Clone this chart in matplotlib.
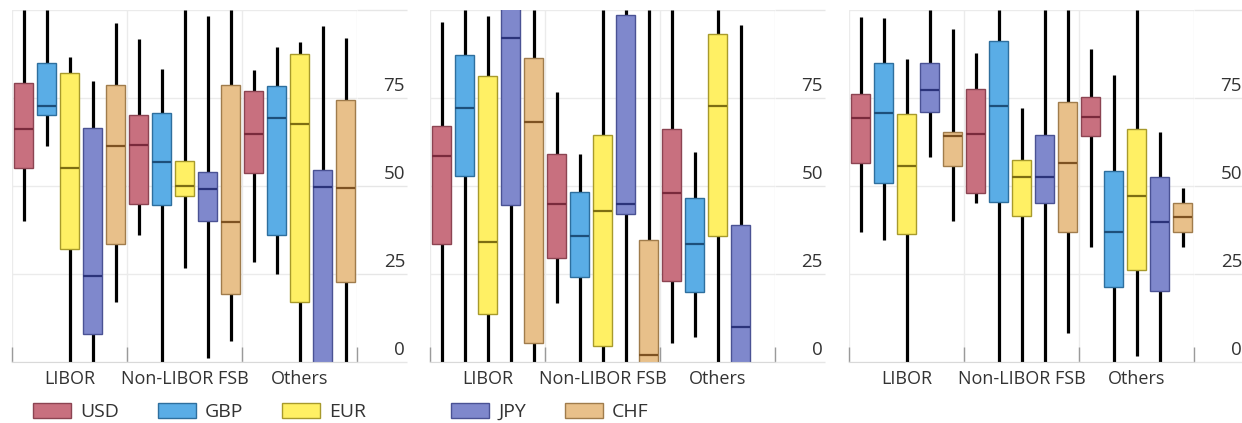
import matplotlib
matplotlib.use("Agg")
import matplotlib.pyplot as plt
import matplotlib.transforms as mtransforms
from matplotlib.patches import Patch
import numpy as np

plt.rcParams['font.family'] = ['Open Sans', 'DejaVu Sans']

categories = ['LIBOR', 'Non-LIBOR FSB', 'Others']
currencies = ['USD', 'GBP', 'EUR', 'JPY', 'CHF']

face_colors = ['#c8707f', '#5aade6', '#fff064', '#7f88cc', '#e8c08a']
edge_colors = ['#8c4452', '#2e6f9e', '#a89a2c', '#4a5294', '#a07c4c']
median_colors = ['#7a2a3c', '#1d4f7a', '#7d6e12', '#2b337a', '#7d5222']

# rows: USD, GBP, EUR, JPY, CHF / columns: LIBOR, Non-LIBOR FSB, Others
a_lo = [[40.1, 36.1, 28.5], [61.4, 0, 25.0], [0, 26.6, 0], [0, 1.0, 0], [17.1, 6.1, 0]]
a_q1 = [[55.2, 44.9, 53.8], [70.1, 44.6, 36.1], [32.1, 47.2, 17.0], [8.0, 40.1, -1], [33.4, 19.2, 22.6]]
a_med = [[66.1, 61.6, 64.7], [72.8, 56.8, 69.4], [55.2, 50.0, 67.6], [24.3, 49.1, 49.8], [61.4, 39.9, 49.3]]
a_q3 = [[79.3, 70.1, 77.1], [84.9, 70.7, 78.4], [82.0, 57.1, 87.4], [66.4, 54.1, 54.5], [78.6, 78.6, 74.4]]
a_hi = [[100, 91.7, 83.0], [100, 83.2, 89.6], [86.7, 100, 91.0], [79.9, 98.4, 95.5], [96.4, 100, 92.0]]

b_lo = [[0, 16.7, 5.5], [0, 0, 7.2], [0, 0, 0], [0, 0, 0], [0, 0, np.nan]]
b_q1 = [[33.4, 29.5, 23.1], [52.9, 24.1, 20.0], [13.6, 4.5, 35.8], [44.6, 42.0, -1], [5.5, -1, np.nan]]
b_med = [[58.5, 44.9, 48.1], [72.2, 35.8, 33.4], [34.0, 43.0, 72.7], [92.1, 44.9, 10.0], [68.1, 2.0, np.nan]]
b_q3 = [[67.1, 59.0, 66.1], [87.2, 48.2, 46.5], [81.3, 64.5, 93.2], [101, 98.6, 38.9], [86.4, 34.7, np.nan]]
b_hi = [[96.5, 76.8, 100], [100, 59.0, 59.7], [98.4, 100, 100], [101, 100, 95.7], [100, 100, np.nan]]

c_lo = [[36.8, 45.1, 32.6], [34.7, 0, 0], [0, 0, 1.7], [58.2, 0, 0], [40.1, 8.2, 32.6]]
c_q1 = [[56.4, 48.1, 64.3], [50.8, 45.5, 21.2], [36.3, 41.6, 26.1], [70.9, 45.1, 20.3], [55.8, 36.8, 36.8]]
c_med = [[69.4, 64.7, 69.5], [70.8, 72.8, 37.0], [55.7, 52.6, 47.2], [77.3, 52.6, 39.7], [64.2, 56.6, 41.1]]
c_q3 = [[76.1, 77.5, 75.4], [85.0, 91.2, 54.3], [70.5, 57.4, 66.1], [84.9, 64.5, 52.5], [65.4, 73.9, 45.3]]
c_hi = [[97.9, 87.9, 88.8], [97.6, 100, 81.5], [86.1, 72.2, 100], [100, 100, 65.4], [94.5, 100, 49.3]]

panels = [
    (a_lo, a_q1, a_med, a_q3, a_hi),
    (b_lo, b_q1, b_med, b_q3, b_hi),
    (c_lo, c_q1, c_med, c_q3, c_hi),
]

y_ticks = [0, 25, 50, 75, 100]
y_tick_labels = ['0', '25', '50', '75', '']

W, H = 1242, 423
fig = plt.figure(figsize=(W / 100, H / 100), dpi=100)

axes_left = [12, 430, 849]
offsets = np.array([-0.4, -0.2, 0.0, 0.2, 0.4])
text_color = '#333333'

for left, (lo, q1, med, q3, hi) in zip(axes_left, panels):
    ax = fig.add_axes([left / W, 61 / H, 345 / W, 352 / H])
    for i in range(len(currencies)):
        stats, pos = [], []
        for j in range(len(categories)):
            if np.isnan(med[i][j]):
                continue
            stats.append(dict(whislo=lo[i][j], q1=q1[i][j], med=med[i][j],
                              q3=q3[i][j], whishi=hi[i][j], fliers=[]))
            pos.append(j + offsets[i])
        bp = ax.bxp(stats, positions=pos, widths=0.16, patch_artist=True,
                    showcaps=False, showfliers=False,
                    boxprops=dict(facecolor=face_colors[i], edgecolor=edge_colors[i], linewidth=1.0),
                    medianprops=dict(color=median_colors[i], linewidth=1.6),
                    whiskerprops=dict(color='black', linewidth=2.3, solid_capstyle='butt'))
        for w in bp['whiskers']:
            w.set_zorder(1)
        for b in bp['boxes']:
            b.set_zorder(2)
        for m in bp['medians']:
            m.set_zorder(3)

    ax.set_xlim(-0.5, 2.5)
    ax.set_ylim(0, 100)

    # group boundaries as major ticks, group names on minor ticks
    ax.set_xticks([-0.5, 0.5, 1.5, 2.5])
    ax.set_xticklabels([])
    ax.set_xticks([0, 1, 2], minor=True)
    ax.set_xticklabels(categories, minor=True, fontsize=13, color=text_color)
    ax.tick_params(axis='x', which='major', direction='in', length=11, width=1.0, color='#9a9a9a')
    ax.tick_params(axis='x', which='minor', length=0, pad=6)

    ax.set_yticks(y_ticks)
    ax.yaxis.tick_right()
    ax.tick_params(axis='y', which='major', length=36, width=1.0, color='#e6e6e6',
                   labelright=False, labelleft=False)
    offset = mtransforms.ScaledTranslation(0, 3 / 100, fig.dpi_scale_trans)
    trans = mtransforms.blended_transform_factory(ax.transAxes, ax.transData) + offset
    for v, s in zip(y_ticks, y_tick_labels):
        ax.text(1 + 48 / 345, v, s, transform=trans, ha='right', va='bottom',
                fontsize=13.5, color=text_color, clip_on=False)

    ax.grid(axis='both', which='major', color='#ebebeb', linewidth=1.0)
    ax.set_axisbelow(True)
    for side in ['left', 'right', 'top']:
        ax.spines[side].set_visible(False)
    ax.spines['bottom'].set_color('#d9d9d9')

legend_groups = [(axes_left[0], [0, 1, 2]), (axes_left[1], [3, 4])]
for left, idx in legend_groups:
    handles = [Patch(facecolor=face_colors[k], edgecolor=edge_colors[k], linewidth=1.0,
                     label=currencies[k]) for k in idx]
    fig.legend(handles=handles, loc='lower left', bbox_to_anchor=((left + 21) / W, 2 / H),
               ncol=len(idx), frameon=False, fontsize=14, labelcolor=text_color,
               handlelength=1.96, handleheight=0.8, handletextpad=0.46,
               columnspacing=2.0, borderpad=0, borderaxespad=0)

fig.savefig('out.png', dpi=100, facecolor='white')
